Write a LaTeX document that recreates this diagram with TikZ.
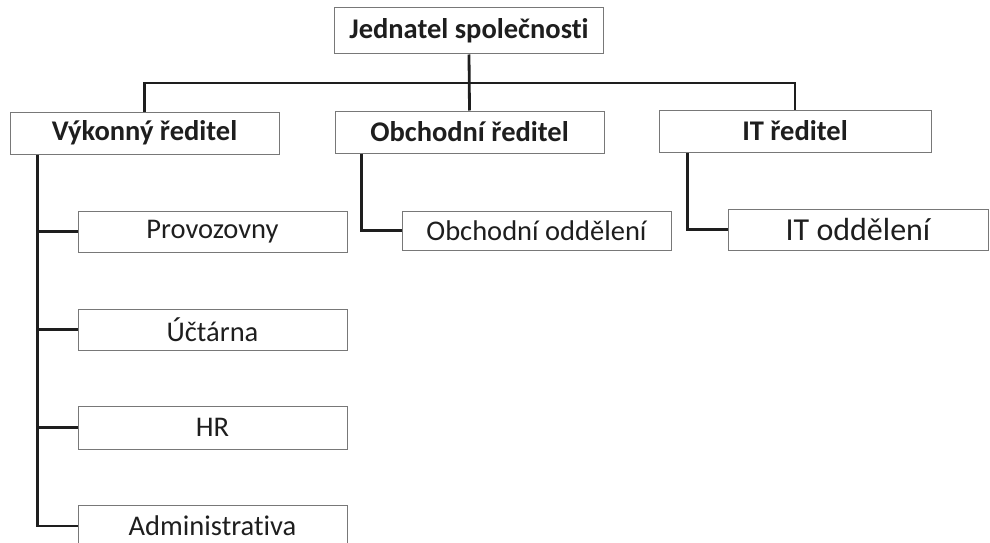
\documentclass[tikz,border=0pt]{standalone}
\usepackage{fontspec}
\setmainfont{Carlito}[Ligatures=NoCommon]
\usepackage{tikz}
\usetikzlibrary{positioning}
\definecolor{boxgray}{RGB}{120,120,120}
\definecolor{inkblack}{RGB}{30,30,30}
\tikzstyle{box} = [draw=boxgray, line width=1pt, rectangle, inner sep=0pt, minimum width=269pt, minimum height=42pt, text=inkblack, font=\fontsize{28.5}{33}\selectfont]
\tikzstyle{head} = [box, font=\fontsize{28.5}{33}\selectfont\bfseries]
\tikzstyle{conn} = [line width=2.8pt, color=inkblack]

\begin{document}
\begin{tikzpicture}[x=1pt, y=-1pt]
\useasboundingbox (0,0) rectangle (990,543);
% Top
\node[head, minimum height=46pt] (jednatel) at (469,31) {Jednatel společnosti};
\coordinate (bus) at (469,83);

% Directors
\node[head] (vykonny) at (144.5,133) {Výkonný ředitel};
\node[head] (obchodni) at (469.5,132) {Obchodní ředitel};
\node[head, minimum width=272pt] (itred) at (795,131) {IT ředitel};

% Departments
\node[box, minimum height=41pt] (provoz) at (212.5,231.5) {Provozovny};
\node[box, minimum height=41pt] (uctarna) at (212.5,329.5) {Účtárna};
\node[box, minimum height=43pt] (hr) at (212.5,427.5) {HR};
\node[box, minimum height=42pt] (admin) at (212.5,526) {Administrativa};
\node[box, minimum height=39pt] (obchodd) at (536.5,230.5) {Obchodní oddělení};
\node[box, minimum width=260pt, minimum height=41pt, font=\fontsize{32}{37}\selectfont] (itodd) at (858,229.5) {IT oddělení};

% Lines
\draw[conn] (jednatel.south) -- (obchodni.north);
\draw[conn] (vykonny.north) |- (bus) -| (itred.north);

\coordinate (trunk) at ([xshift=28pt]vykonny.south west);
\draw[conn] (trunk) |- (admin.west);
\foreach \n in {provoz,uctarna,hr}
  \draw[conn] (\n.west) -- (\n.west -| trunk);

\draw[conn] ([xshift=27pt]obchodni.south west) |- (obchodd.west);
\draw[conn] ([xshift=29pt]itred.south west) |- (itodd.west);
\end{tikzpicture}
\end{document}
